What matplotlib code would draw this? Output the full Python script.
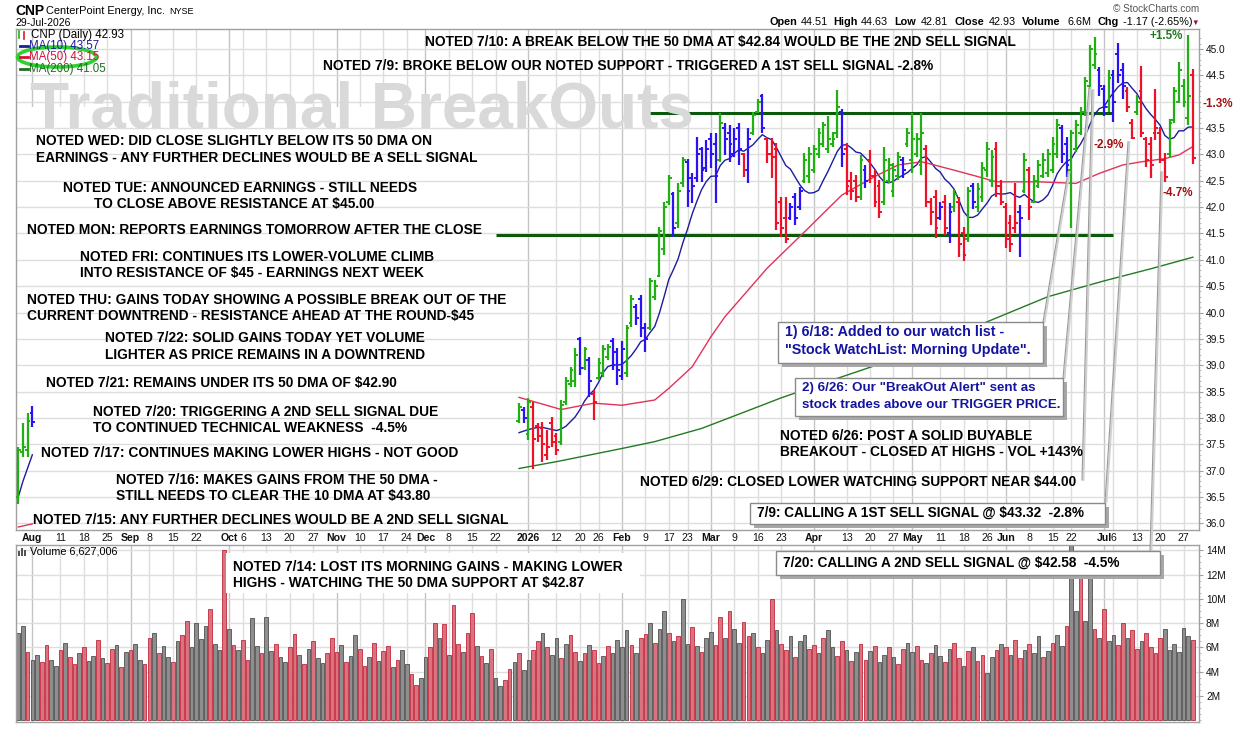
import numpy as np
import pandas as pd
import matplotlib
matplotlib.use('Agg')
import matplotlib.pyplot as plt
from matplotlib.patches import Rectangle, Ellipse
from matplotlib.lines import Line2D

plt.rcParams['font.family'] = ['Liberation Sans', 'DejaVu Sans']

# ---- trading calendar (Jul 29 2025 - Jul 29 2026) ----
holidays = ['2025-09-01', '2025-11-27', '2025-12-25', '2026-01-01', '2026-01-19',
            '2026-02-16', '2026-04-03', '2026-05-25', '2026-06-19', '2026-07-03']
days = pd.bdate_range('2025-07-29', '2026-07-29')
days = days[~days.isin(pd.to_datetime(holidays))]

# ---- price bars ----
# first few bars on the far left (Jul 29 - Aug 1 2025)
head_high = [37.45, 37.90, 38.09, 38.23]
head_low = [36.37, 37.26, 37.26, 37.83]
head_open = [36.50, 37.35, 37.40, 38.10]
head_close = [37.40, 37.45, 37.95, 37.93]
head_impulse = [1, 1, 1, 0]
head_ma10 = [36.50, 36.80, 37.05, 37.30]
head_ma50 = [35.93, 35.95, 35.97, 35.99]

# visible run from Dec 30 2025 to Jul 29 2026
seg_start = 107
seg_high = [38.28, 38.21, 38.37, 38.31, 37.90, 37.93, 37.77, 38.02, 37.71, 38.34,
            38.78, 38.97, 39.32, 39.54, 39.35, 39.16, 38.53, 39.13, 39.38, 39.41,
            39.51, 39.32, 39.45, 39.76, 40.33, 40.17, 40.33, 39.80, 40.65, 40.62,
            41.63, 42.10, 42.61, 42.29, 42.45, 42.96, 42.92, 42.64, 43.34, 43.15,
            43.27, 43.40, 43.40, 43.78, 43.59, 43.56, 43.50, 43.59, 43.02, 43.50,
            43.81, 44.06, 44.15, 43.34, 43.31, 43.21, 42.20, 42.20, 42.07, 42.26,
            42.39, 43.02, 43.15, 43.18, 43.50, 43.62, 43.72, 43.43, 44.22, 43.86,
            43.21, 42.67, 42.61, 42.99, 42.80, 43.08, 42.70, 42.51, 43.15, 42.93,
            42.83, 43.05, 42.96, 43.50, 43.79, 43.40, 43.78, 43.18, 42.17, 42.33,
            42.10, 42.23, 42.07, 42.33, 42.20, 41.63, 42.39, 42.45, 42.45, 42.86,
            43.24, 43.08, 43.24, 42.51, 42.07, 41.85, 42.45, 42.04, 43.02, 42.77,
            42.61, 42.89, 43.02, 43.11, 43.34, 43.68, 43.56, 43.34, 43.46, 43.65,
            43.90, 44.47, 45.08, 45.23, 44.66, 44.32, 44.60, 44.60, 45.11, 44.73,
            44.28, 43.68, 44.13, 44.68, 43.34, 43.34, 44.25, 43.52, 43.02, 43.68,
            44.28, 44.76, 44.44, 45.27, 44.63]
seg_low = [37.90, 37.90, 37.58, 37.04, 37.55, 37.17, 37.20, 37.45, 37.30, 37.49,
           38.25, 38.59, 38.59, 38.82, 38.91, 38.40, 37.96, 38.72, 38.78, 39.10,
           38.91, 38.62, 38.72, 38.78, 39.73, 39.76, 39.54, 39.26, 39.67, 40.24,
           40.68, 41.09, 42.04, 41.44, 41.60, 42.39, 42.01, 42.07, 42.48, 42.48,
           42.67, 42.74, 42.07, 42.86, 42.99, 42.86, 42.96, 42.80, 42.58, 42.46,
           43.37, 43.78, 43.40, 42.83, 42.55, 41.57, 41.44, 41.31, 41.76, 41.66,
           41.95, 42.45, 42.45, 42.64, 42.93, 43.15, 43.02, 43.15, 43.31, 42.77,
           42.23, 42.14, 42.10, 42.14, 42.36, 42.45, 42.01, 41.79, 42.04, 42.45,
           42.20, 42.51, 42.55, 43.15, 42.64, 42.96, 42.61, 42.01, 41.66, 41.41,
           41.76, 41.47, 41.31, 41.91, 41.06, 40.97, 41.34, 41.96, 41.90, 42.10,
           42.58, 42.39, 42.20, 42.04, 41.22, 41.15, 41.50, 41.06, 42.26, 41.75,
           42.07, 42.36, 42.55, 42.58, 42.64, 42.93, 42.83, 42.58, 41.60, 43.05,
           43.37, 43.72, 44.25, 44.63, 44.10, 43.72, 43.81, 43.62, 44.35, 44.06,
           43.81, 43.30, 43.75, 43.34, 42.77, 42.55, 43.27, 42.83, 42.48, 42.96,
           43.59, 43.97, 43.90, 43.56, 42.81]
seg_open = [37.95, 38.15, 37.70, 38.20, 37.85, 37.80, 37.30, 37.90, 37.65, 37.55,
            38.30, 38.65, 38.70, 39.50, 38.95, 39.10, 38.45, 38.75, 38.85, 39.15,
            39.45, 39.25, 38.80, 38.85, 39.80, 40.10, 40.25, 39.70, 39.70, 40.30,
            40.70, 41.20, 42.10, 42.25, 41.70, 42.45, 42.85, 42.55, 42.55, 43.10,
            42.75, 43.30, 43.20, 42.90, 43.50, 43.40, 43.00, 43.50, 43.00, 42.70,
            43.40, 43.80, 44.10, 43.30, 43.00, 43.10, 42.10, 41.80, 41.80, 42.20,
            42.00, 42.50, 42.60, 42.70, 43.00, 43.20, 43.10, 43.20, 43.40, 43.80,
            43.10, 42.50, 42.50, 42.20, 42.70, 42.90, 42.60, 42.40, 42.10, 42.50,
            42.30, 42.60, 42.90, 43.20, 42.90, 43.00, 42.80, 43.10, 42.10, 42.20,
            41.80, 42.10, 41.50, 42.00, 42.10, 41.50, 41.40, 42.40, 42.00, 42.20,
            42.70, 42.50, 43.10, 42.40, 42.00, 41.70, 41.60, 41.90, 42.30, 42.70,
            42.10, 42.40, 42.60, 42.65, 42.70, 43.00, 43.50, 43.20, 42.70, 43.10,
            43.40, 43.80, 44.30, 44.70, 44.60, 44.25, 43.90, 44.50, 44.90, 44.60,
            44.20, 43.60, 43.80, 44.20, 43.30, 43.20, 43.40, 43.40, 42.90, 43.00,
            43.65, 44.00, 44.30, 43.70, 44.51]
seg_close = [38.20, 38.00, 38.30, 37.60, 37.65, 37.50, 37.45, 37.55, 37.40, 38.25,
             38.70, 38.90, 39.20, 38.95, 39.30, 38.70, 38.30, 39.05, 39.30, 39.35,
             39.00, 38.90, 39.30, 39.70, 40.25, 39.90, 39.70, 39.50, 40.60, 40.50,
             41.55, 42.00, 42.55, 41.60, 42.30, 42.90, 42.30, 42.40, 43.00, 42.70,
             43.10, 43.00, 42.60, 43.60, 43.30, 43.20, 43.30, 43.10, 42.70, 43.30,
             43.75, 44.00, 43.50, 43.00, 42.95, 41.70, 41.60, 41.40, 42.00, 41.80,
             42.30, 42.90, 43.00, 43.10, 43.40, 43.55, 43.30, 43.30, 43.90, 43.00,
             42.40, 42.30, 42.20, 42.90, 42.50, 42.60, 42.10, 41.90, 42.90, 42.80,
             42.70, 42.95, 42.70, 43.40, 43.30, 43.30, 43.40, 42.10, 41.90, 41.60,
             42.00, 41.60, 41.90, 42.25, 41.30, 41.10, 42.30, 42.10, 42.35, 42.75,
             43.10, 42.95, 42.40, 42.10, 41.40, 41.30, 41.70, 41.80, 42.90, 42.00,
             42.50, 42.80, 42.90, 43.00, 43.20, 43.55, 43.00, 42.80, 43.40, 43.55,
             43.80, 44.40, 45.00, 44.90, 44.30, 43.90, 44.45, 44.00, 44.50, 44.30,
             43.90, 43.32, 44.00, 43.40, 42.90, 42.80, 43.50, 42.90, 42.58, 43.60,
             44.20, 44.60, 44.00, 44.10, 42.93]
# Elder impulse state shown by the bar colour: 1 up, 0 neutral, -1 down
seg_impulse = [1, 0, 1, -1, -1, -1, -1, -1, -1, 1, 1, 1, 1, 0, 1, 0, -1, 1, 1, 1,
               0, 0, 0, 1, 1, 0, 0, 0, 1, 1, 1, 1, 1, 0, 1, 1, 0, 0, 0, 0,
               0, 0, 0, 1, 0, 0, 0, 0, -1, 0, 1, 1, 0, -1, -1, -1, -1, -1, 0, 0,
               0, 1, 1, 1, 1, 1, 1, 1, 1, 0, -1, -1, -1, 1, 0, -1, -1, -1, 1, 1,
               1, 1, 0, 1, 1, 1, 1, -1, -1, -1, 0, -1, 0, 1, -1, -1, 1, 0, 1, 1,
               1, 1, -1, -1, -1, -1, -1, 0, 1, -1, 1, 1, 1, 1, 1, 1, 0, 0, 1, 1,
               1, 1, 1, 1, 0, 0, 1, 0, 0, 0, -1, -1, 1, -1, -1, -1, -1, -1, -1, 1,
               1, 1, 1, 1, -1]
ma10_lead = [37.72, 37.75, 37.78, 37.80, 37.82, 37.82, 37.80, 37.78, 37.76]

# moving averages read at sample bars
ma50_idx = [107, 116, 123, 129, 136, 139, 144, 148, 151, 156, 160, 168, 176, 183,
            188, 193, 194, 200, 205, 209, 218, 226, 231, 236, 240, 245, 248, 251]
ma50_val = [38.39, 38.16, 38.28, 38.24, 38.34, 38.56, 38.97, 39.54, 39.92, 40.43,
            40.84, 41.53, 42.23, 42.58, 42.80, 42.86, 42.84, 42.70, 42.58, 42.48,
            42.48, 42.45, 42.64, 42.80, 42.86, 42.92, 42.99, 43.15]
ma200_idx = [107, 115, 129, 136, 146, 156, 163, 175, 190, 205, 220, 232, 242, 251]
ma200_val = [37.04, 37.17, 37.42, 37.55, 37.80, 38.14, 38.38, 38.75, 39.20, 39.75,
             40.30, 40.60, 40.83, 41.05]

# ---- volume (millions) for every bar ----
volume = [7.2, 7.8, 5.6, 5.0,
          5.4, 4.8, 6.2, 5.0, 4.5, 5.8, 6.4, 5.2, 4.6, 5.5, 6.0, 4.9, 5.3, 6.6, 5.1, 4.7, 5.9, 6.2, 4.4, 5.6,
          5.8, 6.3, 5.0, 4.6, 6.8, 7.2, 5.5, 6.1, 5.2, 4.8, 6.5, 7.0, 8.2, 6.0, 8.0, 6.7, 7.8, 9.2, 6.3, 5.8, 14.0,
          7.5, 6.2, 5.8, 6.6, 5.0, 8.4, 6.1, 5.5, 8.5, 5.7, 6.3, 5.2, 4.8, 6.0, 7.1, 5.4, 4.6, 5.9, 6.5, 5.1, 4.7, 5.5, 6.8,
          5.6, 6.2, 4.8, 5.3, 7.0, 5.9, 4.5, 5.2, 6.4, 4.9, 5.7, 6.1, 4.4, 5.0, 5.8, 4.6, 3.8, 2.9, 3.5,
          5.2, 6.0, 8.0, 6.8, 7.9, 5.4, 9.5, 6.3, 5.6, 7.2, 8.8, 6.1, 5.3, 4.7, 5.9, 3.5, 2.8, 3.3, 4.2, 4.8, 5.5, 4.1,
          5.0, 5.8, 6.5, 7.2, 6.0, 5.4, 6.8, 5.1, 6.3, 7.0, 5.6, 4.9, 5.5, 6.2, 5.8, 4.7, 5.3, 6.1, 5.5, 6.6,
          6.0, 7.4, 6.2, 5.5, 6.8, 7.1, 8.0, 6.4, 7.5, 9.0, 7.2, 6.5, 6.9, 10.0, 6.3, 7.7, 6.1, 5.6, 6.8,
          7.3, 6.2, 8.5, 6.8, 9.0, 7.5, 6.4, 8.1, 6.9, 7.2, 6.0, 5.5, 6.6, 10.0, 7.4, 6.3, 5.8, 6.9, 5.2, 6.5, 7.0, 5.9,
          6.2, 5.5, 6.8, 7.4, 6.0, 5.3, 6.5, 5.8, 4.9, 5.6, 6.3, 5.0, 5.7, 6.1, 4.8, 5.4, 6.0, 5.2, 4.6, 5.9, 6.4,
          5.6, 6.1, 5.0, 4.7, 5.5, 6.2, 5.3, 4.8, 5.9, 6.4, 5.1, 4.5, 5.7, 6.0, 4.9, 5.4, 3.9, 5.2, 5.8, 6.3,
          6.0, 5.4, 6.6, 5.1, 5.8, 6.3, 5.5, 6.9, 5.2, 5.7, 6.4, 7.0, 6.1, 7.8, 14.5, 9.0, 13.0, 8.2, 12.2, 7.5, 6.8,
          9.2, 6.5, 7.0, 6.2, 8.0, 6.8, 7.4, 5.9, 6.5, 7.2, 6.0, 5.5, 6.8, 7.5, 5.8, 6.3, 5.6, 7.6, 6.9, 6.627]
# 1 = down day (red volume bar)
vol_down = [int(c) for c in (
    "0010"
    "01100101101001011010"
    "100110100101100001001"
    "01011001001001101010011"
    "1010011010110100110"
    "0110101101101010011010"
    "01101001011010110100"
    "0010110100101001010"
    "0110100110100101101001"
    "101001101011010010110"
    "01101001011010110010"
    "101101001010010010010"
    "10011011011110000001")]

n = len(days)
assert len(volume) == n and len(vol_down) == n
assert len(seg_high) == len(seg_low) == len(seg_open) == len(seg_close) == len(seg_impulse)

# x tick labels (bar dates)
tick_dates = ['2025-08-01', '2025-08-11', '2025-08-18', '2025-08-25', '2025-09-02', '2025-09-08',
              '2025-09-15', '2025-09-22', '2025-10-01', '2025-10-06', '2025-10-13', '2025-10-20',
              '2025-10-27', '2025-11-03', '2025-11-10', '2025-11-17', '2025-11-24', '2025-12-01',
              '2025-12-08', '2025-12-15', '2025-12-22', '2026-01-02', '2026-01-12', '2026-01-20',
              '2026-01-26', '2026-02-02', '2026-02-09', '2026-02-17', '2026-02-23', '2026-03-02',
              '2026-03-09', '2026-03-16', '2026-03-23', '2026-04-01', '2026-04-13', '2026-04-20',
              '2026-04-27', '2026-05-01', '2026-05-11', '2026-05-18', '2026-05-26', '2026-06-01',
              '2026-06-08', '2026-06-15', '2026-06-22', '2026-07-01', '2026-07-06', '2026-07-13',
              '2026-07-20', '2026-07-27']
tick_text = ['Aug', '11', '18', '25', 'Sep', '8', '15', '22', 'Oct', '6', '13', '20', '27',
             'Nov', '10', '17', '24', 'Dec', '8', '15', '22', '2026', '12', '20', '26',
             'Feb', '9', '17', '23', 'Mar', '9', '16', '23', 'Apr', '13', '20', '27',
             'May', '11', '18', '26', 'Jun', '8', '15', '22', 'Jul', '6', '13', '20', '27']
tick_idx = [days.get_loc(pd.Timestamp(d)) for d in tick_dates]
is_month = [not t.isdigit() or t == '2026' for t in tick_text]

# ---- figure ----
W, H = 1240, 737
fig = plt.figure(figsize=(W / 100, H / 100), dpi=100)


def fx(x):
    return x / W


def fy(y):
    return 1 - y / H


def put(x, y, s, **kw):
    kw.setdefault('va', 'center')
    return fig.text(fx(x), fy(y), s, **kw)


frame = '#a0a0a0'
ax = fig.add_axes([fx(16), fy(530), (1199 - 16) / W, (530 - 29) / H])
axv = fig.add_axes([fx(16), fy(722), (1199 - 16) / W, (722 - 545) / H])
x_lo, x_hi = -0.49, 252.3

for a in (ax, axv):
    a.set_xlim(x_lo, x_hi)
    a.set_xticks([])
    for s in a.spines.values():
        s.set_color(frame)
        s.set_linewidth(1.0)
    for ti, m in zip(tick_idx, is_month):
        a.axvline(ti, color='#c4c4c4' if m else '#dedede', lw=1.0, zorder=0)
    a.yaxis.tick_right()
    a.tick_params(axis='y', length=3, width=0.8, color=frame, labelsize=7.3,
                  pad=2, labelcolor='#111111')

ax.set_ylim(35.873, 45.38)
ax.set_yticks(np.arange(36, 45.01, 0.5))
ax.set_yticklabels([f'{v:.1f}' for v in np.arange(36, 45.01, 0.5)])
ax.set_yticks(np.arange(36, 45.3, 0.1), minor=True)
ax.tick_params(axis='y', which='minor', length=1.5, color='#b0b0b0')
ax.grid(axis='y', color='#dedede', lw=1.0, zorder=0)

axv.set_ylim(-0.14, 14.43)
axv.set_yticks(np.arange(2, 14.1, 2))
axv.set_yticklabels([f'{int(v)}M' for v in np.arange(2, 14.1, 2)])
axv.set_yticks(np.arange(0, 14.4, 0.5), minor=True)
axv.tick_params(axis='y', which='minor', length=1.5, color='#b0b0b0')
axv.grid(axis='y', color='#dedede', lw=1.0, zorder=0)

# whited-out area behind the notes
ax.add_patch(Rectangle((1.5, 35.7), 105.0 - 1.5, 43.9 - 35.7, facecolor='white',
                       edgecolor='none', zorder=1))

# support / resistance
ax.hlines(43.79, 134, 234, color='#0b5a0b', lw=2.2, zorder=3)
ax.hlines(41.47, 102, 234, color='#0b5a0b', lw=2.2, zorder=3)

# moving averages
seg_x = np.arange(seg_start, seg_start + len(seg_close))
closes = pd.Series(seg_close)
ma10 = closes.rolling(10).mean().to_numpy()
ma10[:9] = ma10_lead
ax.plot(seg_x, ma10, color='#1c1c9c', lw=1.0, zorder=4)
ax.plot(np.arange(4), head_ma10, color='#1c1c9c', lw=1.0, zorder=4)
ax.plot(ma50_idx, ma50_val, color='#e0335a', lw=1.0, zorder=4)
ax.plot(np.arange(4), head_ma50, color='#e0335a', lw=1.0, zorder=4)
ax.plot(ma200_idx, ma200_val, color='#237a23', lw=1.0, zorder=4)

# OHLC bars
imp_col = {1: '#21b014', 0: '#2a12f5', -1: '#ee1128'}


def draw_bars(xs, o, h, l, c, imp):
    cols = [imp_col[k] for k in imp]
    ax.vlines(xs, l, h, colors=cols, lw=1.6, zorder=5)
    ax.hlines(o, np.asarray(xs) - 0.6, xs, colors=cols, lw=1.4, zorder=5)
    ax.hlines(c, xs, np.asarray(xs) + 0.6, colors=cols, lw=1.4, zorder=5)


draw_bars(np.arange(4), head_open, head_high, head_low, head_close, head_impulse)
draw_bars(seg_x, seg_open, seg_high, seg_low, seg_close, seg_impulse)

# volume bars
vx = np.arange(n)
vcol = ['#d9737f' if d else '#8e8e8e' for d in vol_down]
vedge = ['#c0283c' if d else '#505050' for d in vol_down]
axv.bar(vx, volume, width=0.78, color=vcol, edgecolor=vedge, lw=0.6, zorder=2)

# x labels between the panels
for ti, t, m in zip(tick_idx, tick_text, is_month):
    xp = 18.3 + ti * 4.68
    put(xp, 538, t, ha='center', fontsize=7.6, fontweight='bold' if m else 'normal',
        color='#111111')

# ---- header ----
put(15, 11, 'CNP', fontsize=10, fontweight='bold')
put(46, 11, 'CenterPoint Energy, Inc.', fontsize=7.9)
put(169, 11, 'NYSE', fontsize=6.5)
put(15, 23, '29-Jul-2026', fontsize=7.5)
put(1199, 9, '\u00a9 StockCharts.com', fontsize=7.2, ha='right', color='#555555')
hx = [(769, 'Open', True), (801, '44.51', False), (833, 'High', True), (861, '44.63', False),
      (894, 'Low', True), (921, '42.81', False), (954, 'Close', True), (989, '42.93', False),
      (1022, 'Volume', True), (1067, '6.6M', False), (1098, 'Chg', True),
      (1123, '-1.17 (-2.65%)', False)]
for xp, s, b in hx:
    put(xp, 22, s, fontsize=7.8, fontweight='bold' if b else 'normal')
put(1195, 23, '\u25bc', fontsize=5.5, color='#8b1a2b', ha='center')

# legend inside price panel
fig.add_artist(Line2D([fx(19), fx(19)], [fy(31), fy(38)], color='#21b014', lw=1.2))
fig.add_artist(Line2D([fx(24), fx(24)], [fy(32), fy(39)], color='#ee1128', lw=1.2))
put(31, 35, 'CNP (Daily) 42.93', fontsize=8.3)
for yy, s, c in [(46, 'MA(10) 43.57', '#1c1c9c'), (57, 'MA(50) 43.15', '#d4103c'),
                 (69, 'MA(200) 41.05', '#1f6e1f')]:
    fig.add_artist(Line2D([fx(20), fx(28)], [fy(yy), fy(yy)], color=c, lw=2))
    put(29, yy, s, fontsize=8.3, color=c)
fig.add_artist(Ellipse((fx(57), fy(57)), 79 / W, 20 / H, fill=False, edgecolor='#2ed12e', lw=2.6))

# volume legend
for k, hh in enumerate([5, 8, 6]):
    fig.add_artist(Rectangle((fx(18 + k * 3), fy(556)), 2 / W, hh / H, facecolor='#555555'))
put(30, 552, 'Volume 6,627,006', fontsize=7.8)

# watermark
put(30, 127, 'Traditional BreakOuts', fontsize=46, fontweight='bold', color='#d9d9d9',
    va='baseline')

# ---- notes ----
nb = dict(fontsize=9.95, fontweight='bold', color='black')
put(425, 42, 'NOTED 7/10: A BREAK BELOW THE 50 DMA AT $42.84 WOULD BE THE 2ND SELL SIGNAL', **nb)
put(323, 66, 'NOTED 7/9: BROKE BELOW OUR NOTED SUPPORT - TRIGGERED A 1ST SELL SIGNAL -2.8%', **nb)
put(36, 141, 'NOTED WED: DID CLOSE SLIGHTLY BELOW ITS 50 DMA ON', **nb)
put(36, 158, 'EARNINGS - ANY FURTHER DECLINES WOULD BE A SELL SIGNAL', **nb)
put(240, 188, 'NOTED TUE: ANNOUNCED EARNINGS - STILL NEEDS', ha='center', **nb)
put(234, 204, 'TO CLOSE ABOVE RESISTANCE AT $45.00', ha='center', **nb)
put(27, 230, 'NOTED MON: REPORTS EARNINGS TOMORROW AFTER THE CLOSE', **nb)
put(80, 257, 'NOTED FRI: CONTINUES ITS LOWER-VOLUME CLIMB', **nb)
put(80, 273, 'INTO RESISTANCE OF $45 - EARNINGS NEXT WEEK', **nb)
put(27, 300, 'NOTED THU: GAINS TODAY SHOWING A POSSIBLE BREAK OUT OF THE', **nb)
put(27, 316, 'CURRENT DOWNTREND - RESISTANCE AHEAD AT THE ROUND-$45', **nb)
put(105, 338, 'NOTED 7/22: SOLID GAINS TODAY YET VOLUME', **nb)
put(105, 355, 'LIGHTER AS PRICE REMAINS IN A DOWNTREND', **nb)
put(46, 383, 'NOTED 7/21: REMAINS UNDER ITS 50 DMA OF $42.90', **nb)
put(93, 412, 'NOTED 7/20: TRIGGERING A 2ND SELL SIGNAL DUE', **nb)
put(93, 428, 'TO CONTINUED TECHNICAL WEAKNESS  -4.5%', **nb)
put(41, 453, 'NOTED 7/17: CONTINUES MAKING LOWER HIGHS - NOT GOOD', **nb)
put(116, 480, 'NOTED 7/16: MAKES GAINS FROM THE 50 DMA -', **nb)
put(116, 496, 'STILL NEEDS TO CLEAR THE 10 DMA AT $43.80', **nb)
put(33, 520, 'NOTED 7/15: ANY FURTHER DECLINES WOULD BE A 2ND SELL SIGNAL', **nb)
put(780, 436, 'NOTED 6/26: POST A SOLID BUYABLE', **nb)
put(780, 452, 'BREAKOUT - CLOSED AT HIGHS - VOL +143%', **nb)
put(640, 482, 'NOTED 6/29: CLOSED LOWER WATCHING SUPPORT NEAR $44.00', **nb)

# white card in the volume panel
fig.add_artist(Rectangle((fx(226), fy(593)), 414 / W, 40 / H, facecolor='white',
                         edgecolor='none', zorder=2.5))
put(233, 567, 'NOTED 7/14: LOST ITS MORNING GAINS - MAKING LOWER', **nb)
put(233, 583, 'HIGHS - WATCHING THE 50 DMA SUPPORT AT $42.87', **nb)

# callout lines
for (x0, y0), (x1, y1) in [((1043, 322), (1068, 172)), ((1063, 378), (1089, 88)),
                           ((1082, 480), (1092, 90)), ((1105, 502), (1128, 142)),
                           ((1150, 551), (1161, 172))]:
    fig.add_artist(Line2D([fx(x0 + 1.5), fx(x1 + 1.5)], [fy(y0), fy(y1)], color='#d0d0d0', lw=1.4, zorder=2.6))
    fig.add_artist(Line2D([fx(x0), fx(x1)], [fy(y0), fy(y1)], color='#9a9a9a', lw=0.8, zorder=2.7))


def card(x0, y0, x1, y1, lines, color, size):
    fig.add_artist(Rectangle((fx(x0 + 4), fy(y1 + 4)), (x1 - x0) / W, (y1 - y0) / H,
                             facecolor='#a8a8a8', edgecolor='none', zorder=2.8))
    fig.add_artist(Rectangle((fx(x0), fy(y1)), (x1 - x0) / W, (y1 - y0) / H,
                             facecolor='white', edgecolor='#8a8a8a', lw=1.0, zorder=2.9))
    for yy, s in lines:
        put(x0 + 7, yy, s, fontsize=size, fontweight='bold', color=color, zorder=3.1)


card(778, 322, 1043, 363, [(332, '1) 6/18: Added to our watch list -'),
                           (350, '"Stock WatchList: Morning Update".')], '#1414a0', 10.3)
card(795, 378, 1063, 416, [(388, '2) 6/26: Our "BreakOut Alert" sent as'),
                           (405, 'stock trades above our TRIGGER PRICE.')], '#1414a0', 9.6)
card(750, 503, 1105, 524, [(513, '7/9: CALLING A 1ST SELL SIGNAL @ $43.32  -2.8%')], 'black', 9.85)
card(776, 551, 1160, 575, [(563, '7/20: CALLING A 2ND SELL SIGNAL @ $42.58  -4.5%')], 'black', 9.8)

# percent tags
pb = dict(fontsize=8.4, fontweight='bold', ha='center')
put(1166, 36, '+1.5%', color='#1e7a1e', **pb)
put(1218, 104, '-1.3%', color='#a01010',
    bbox=dict(facecolor='white', edgecolor='none', pad=1.5), **pb)
put(1109, 145, '-2.9%', color='#a01010', **pb)
put(1178, 193, '-4.7%', color='#a01010', **pb)

fig.savefig('out.png', dpi=100)
